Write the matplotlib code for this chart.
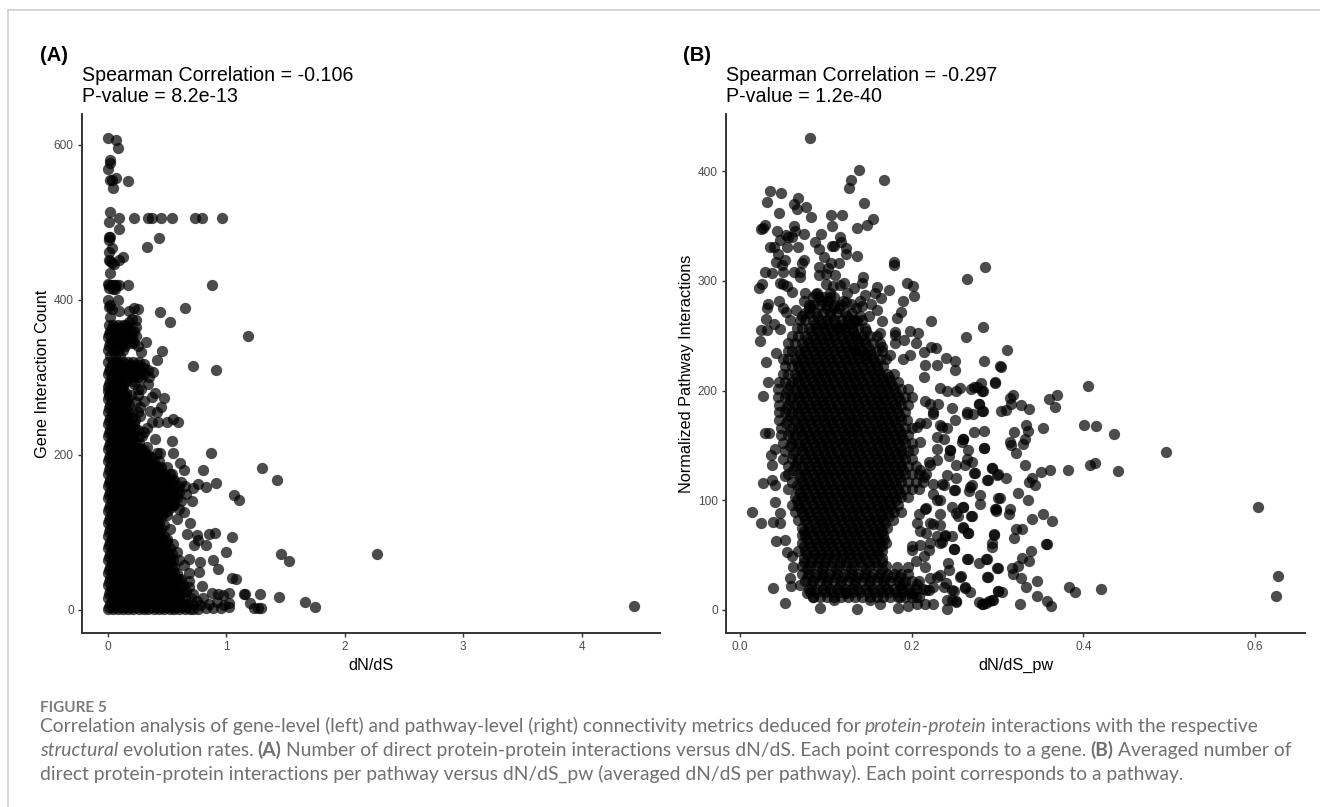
import numpy as np
import matplotlib
matplotlib.use('Agg')
import matplotlib.pyplot as plt
from matplotlib.lines import Line2D

plt.rcParams['font.family'] = ['Liberation Sans', 'DejaVu Sans']

# Panel A: isolated genes (dN/dS, interaction count)
gene_sparse = [
    (0, 609), (.065, 607), (.08, 596), (.017, 581), (.017, 577), (0, 569), (.065, 558), (.02, 555), (.03, 555),
    (.17, 554), (.045, 544), (.017, 514), (.096, 506), (.217, 506), (.335, 506), (.37, 506), (.45, 506),
    (.544, 506), (.738, 506), (.797, 506), (.966, 506), (.011, 500), (.096, 492), (.017, 481), (.006, 481),
    (.012, 478), (.431, 480), (.327, 468), (.03, 467), (.008, 462), (.13, 455), (.096, 452), (.011, 452),
    (.02, 450), (.03, 448), (.05, 446), (.017, 435), (0, 421), (.01, 419), (.03, 419), (.05, 419), (.07, 419),
    (.09, 419), (.17, 419), (.88, 419), (.011, 415), (.04, 414), (.06, 414), (.08, 400), (0, 400), (.017, 393),
    (.006, 391), (.03, 389), (.22, 390), (.256, 389), (.18, 386), (.65, 390), (.44, 385), (.096, 386),
    (.237, 374), (.527, 372), (.18, 371), (.017, 378), (1.18, 353), (.24, 353), (.324, 346), (.454, 334),
    (.28, 333), (.41, 322), (.715, 315), (.91, 310), (.383, 307), (.28, 299), (.13, 290), (0, 283),
    (.19, 277), (.256, 277), (.4, 280), (.375, 275), (.47, 274), (.45, 262), (.27, 262), (.256, 256),
    (.355, 257), (.41, 255), (.55, 247), (.594, 243), (.5, 243), (.425, 242), (.37, 243), (.3, 230),
    (.4, 220), (.544, 218), (.87, 203), (.3, 206), (.41, 202), (.44, 203), (.546, 202), (.61, 190),
    (.64, 181), (.8, 181), (1.3, 183), (1.43, 168), (.76, 163), (.91, 164), (.72, 158), (.83, 159),
    (1.065, 148), (1.11, 142), (.71, 140), (.64, 126), (.58, 118), (.69, 112), (.9, 99), (.85, 98),
    (.75, 97), (.665, 98), (1.05, 94), (.76, 90), (.73, 84), (.83, 84), (1.0, 75), (1.46, 72), (1.53, 63),
    (.685, 66), (.89, 64), (.78, 62), (.64, 58), (.93, 53), (.77, 49), (1.05, 41), (1.08, 40), (.685, 37),
    (.79, 31), (.68, 30), (1.02, 22), (1.28, 21), (1.15, 21), (1.16, 21), (.875, 22), (.93, 21), (.97, 19),
    (1.44, 17), (1.66, 10), (1.75, 4), (1.2, 9), (1.23, 3), (1.27, 2), (1.29, 3), (1.02, 9), (1.02, 4),
    (.83, 3), (.89, 2), (.95, 3), (.85, 8), (.92, 10), (.98, 6), (2.27, 72), (4.44, 5),
]

# Panel A: genes along the edge of the black mass
gene_edge = [
    (.48, 130), (.5, 122), (.47, 110), (.52, 105), (.5, 92), (.55, 85), (.58, 75), (.6, 65), (.55, 135),
    (.6, 130), (.62, 140), (.66, 150), (.62, 165), (.65, 160), (.28, 205), (.33, 210), (.36, 198), (.25, 232),
    (.29, 225), (.33, 235), (.23, 245), (.27, 250), (.24, 268), (.3, 270), (.25, 285), (.22, 292), (.34, 292),
    (.35, 300), (.3, 318), (.34, 310), (.22, 345), (.25, 340), (.22, 360), (.24, 365), (.2, 375), (.28, 285),
    (.62, 40), (.68, 48), (.72, 20), (.75, 12), (.78, 6), (.8, 15),
]

# Panel A: the solid black mass, one row of dN/dS values per interaction count
gene_rows = [
    (1, [0, .04, .08, .13, .17, .21, .26, .3, .34, .39, .43, .47, .52, .56, .6, .65, .69, .72, .76]),
    (8, [.02, .06, .11, .15, .19, .24, .28, .32, .37, .41, .45, .5, .54, .58, .63, .67, .72]),
    (16, [0, .04, .08, .13, .17, .21, .26, .3, .34, .39, .43, .47, .52, .56, .6, .65, .7]),
    (24, [.02, .06, .11, .15, .19, .24, .28, .32, .37, .41, .45, .5, .54, .58, .63, .66]),
    (32, [0, .04, .08, .13, .17, .21, .26, .3, .34, .39, .43, .47, .52, .56, .6, .63]),
    (40, [.02, .06, .11, .15, .19, .24, .28, .32, .37, .41, .45, .5, .54, .58, .6]),
    (48, [0, .04, .08, .13, .17, .21, .26, .3, .34, .39, .43, .47, .52, .56, .58]),
    (56, [.02, .06, .11, .15, .19, .24, .28, .32, .37, .41, .45, .5, .54, .56]),
    (64, [0, .04, .08, .13, .17, .21, .26, .3, .34, .39, .43, .47, .52, .55]),
    (72, [.02, .06, .11, .15, .19, .24, .28, .32, .37, .41, .45, .5, .54]),
    (80, [0, .04, .08, .13, .17, .21, .26, .3, .34, .39, .43, .47, .52]),
    (88, [.02, .06, .11, .15, .19, .24, .28, .32, .37, .41, .45, .5]),
    (96, [0, .04, .08, .13, .17, .21, .26, .3, .34, .39, .43, .47]),
    (104, [.02, .06, .11, .15, .19, .24, .28, .32, .37, .41, .45]),
    (112, [0, .04, .08, .13, .17, .21, .26, .3, .34, .39, .43]),
    (120, [.02, .06, .11, .15, .19, .24, .28, .32, .37, .41, .45]),
    (128, [0, .04, .08, .13, .17, .21, .26, .3, .34, .39, .43, .47, .5]),
    (136, [.02, .06, .11, .15, .19, .24, .28, .32, .37, .41, .45, .5, .54, .56]),
    (144, [0, .04, .08, .13, .17, .21, .26, .3, .34, .39, .43, .47, .52, .56, .58]),
    (152, [.02, .06, .11, .15, .19, .24, .28, .32, .37, .41, .45, .5, .54, .58, .6]),
    (160, [0, .04, .08, .13, .17, .21, .26, .3, .34, .39, .43, .47, .52, .56, .6]),
    (168, [.02, .06, .11, .15, .19, .24, .28, .32, .37, .41, .45, .5, .54, .56]),
    (176, [0, .04, .08, .13, .17, .21, .26, .3, .34, .39, .43, .47, .52, .54]),
    (184, [.02, .06, .11, .15, .19, .24, .28, .32, .37, .41, .45, .5]),
    (192, [0, .04, .08, .13, .17, .21, .26, .3, .34, .39, .43]),
    (200, [.02, .06, .11, .15, .19, .24, .28, .32, .34]),
    (208, [0, .04, .08, .13, .17, .21, .26, .28]),
    (216, [.02, .06, .11, .15, .19, .24, .26]),
    (224, [0, .04, .08, .13, .17, .21, .26]),
    (232, [.02, .06, .11, .15, .19, .24]),
    (240, [0, .04, .08, .13, .17, .22]),
    (248, [.02, .06, .11, .15, .2]),
    (256, [0, .04, .08, .13, .17, .2]),
    (264, [.02, .06, .11, .15, .18]),
    (272, [0, .04, .08, .13, .17]),
    (280, [.02, .06, .11, .15]),
    (288, [0, .04, .08, .13]),
    (296, [.02, .06, .11, .15, .2]),
    (304, [0, .04, .08, .13, .17, .21, .26, .3]),
    (312, [.02, .06, .11, .15, .19, .24, .28, .3]),
    (320, [0, .04, .08, .13, .17, .21, .26]),
    (328, [.02, .06, .1]),
    (336, [0, .04, .08, .13]),
    (344, [.02, .06, .11, .15, .2]),
    (352, [0, .04, .08, .13, .17, .2]),
    (360, [.02, .06, .11, .15, .19]),
    (368, [.01, .04, .08, .13, .15]),
]

# more genes inside the mass, offset from the rows above
gene_fill = [
    (4, [.01, .05, .1, .14, .18, .22, .27, .31, .36, .4, .44, .48, .53, .57, .62, .66]),
    (12, [.03, .07, .12, .16, .2, .25, .29, .33, .38, .42, .46, .51, .55, .6]),
    (20, [.01, .05, .1, .14, .18, .22, .27, .31, .36, .4, .44, .48, .53, .57, .62]),
    (28, [.03, .07, .12, .16, .2, .25, .29, .33, .38, .42, .46, .51, .55, .6]),
    (36, [.01, .05, .1, .14, .18, .22, .27, .31, .36, .4, .44, .48, .53, .57]),
    (44, [.03, .07, .12, .16, .2, .25, .29, .33, .38, .42, .46, .51, .55]),
    (52, [.01, .05, .1, .14, .18, .22, .27, .31, .36, .4, .44, .48, .53]),
    (60, [.03, .07, .12, .16, .2, .25, .29, .33, .38, .42, .46, .51]),
    (68, [.01, .05, .1, .14, .18, .22, .27, .31, .36, .4, .44, .48, .52]),
    (76, [.03, .07, .12, .16, .2, .25, .29, .33, .38, .42, .46, .5]),
    (84, [.01, .05, .1, .14, .18, .22, .27, .31, .36, .4, .44, .48]),
    (92, [.03, .07, .12, .16, .2, .25, .29, .33, .38, .42, .46]),
    (100, [.01, .05, .1, .14, .18, .22, .27, .31, .36, .4, .44]),
    (108, [.03, .07, .12, .16, .2, .25, .29, .33, .38, .42]),
    (116, [.01, .05, .1, .14, .18, .22, .27, .31, .36, .4]),
    (124, [.03, .07, .12, .16, .2, .25, .29, .33, .38, .42, .46]),
    (132, [.01, .05, .1, .14, .18, .22, .27, .31, .36, .4, .44, .48, .52]),
    (140, [.03, .07, .12, .16, .2, .25, .29, .33, .38, .42, .46, .51, .55]),
    (148, [.01, .05, .1, .14, .18, .22, .27, .31, .36, .4, .44, .48, .53, .57]),
    (156, [.03, .07, .12, .16, .2, .25, .29, .33, .38, .42, .46, .51, .55]),
    (164, [.01, .05, .1, .14, .18, .22, .27, .31, .36, .4, .44, .48, .53]),
    (172, [.03, .07, .12, .16, .2, .25, .29, .33, .38, .42, .46, .5]),
    (180, [.01, .05, .1, .14, .18, .22, .27, .31, .36, .4, .44]),
    (188, [.03, .07, .12, .16, .2, .25, .29, .33, .38]),
    (196, [.01, .05, .1, .14, .18, .22, .27, .31]),
    (204, [.03, .07, .12, .16, .2, .25]),
    (212, [.01, .05, .1, .14, .18, .22]),
    (220, [.03, .07, .12, .16, .2]),
    (228, [.01, .05, .1, .14, .18, .22]),
    (236, [.03, .07, .12, .16, .2]),
    (244, [.01, .05, .1, .14, .18]),
    (252, [.03, .07, .12, .16]),
    (260, [.01, .05, .1, .14]),
    (268, [.03, .07, .12, .15]),
    (276, [.01, .05, .1, .14]),
    (284, [.03, .07, .12]),
    (292, [.01, .05, .1]),
    (300, [.03, .07, .12, .16, .2, .25]),
    (308, [.01, .05, .1, .14, .18, .22, .27]),
    (316, [.03, .07, .12, .16, .2, .25]),
    (340, [.01, .05, .1, .14]),
    (348, [.03, .07, .12, .16, .2]),
    (356, [.01, .05, .1, .14, .18]),
    (364, [.03, .07, .12, .16]),
]

# Panel B: isolated pathways (dN/dS_pw, normalized interactions)
pathway_sparse = [
    (.082, 430), (.139, 401), (.168, 392), (.129, 392), (.127, 385), (.035, 382), (.048, 380), (.032, 372),
    (.068, 375), (.063, 370), (.066, 365), (.077, 367), (.144, 371), (.046, 362), (.083, 358), (.106, 360),
    (.119, 360), (.107, 350), (.155, 356), (.148, 351), (.136, 348), (.029, 351), (.025, 347), (.027, 348),
    (.043, 345), (.063, 350), (.075, 343), (.056, 340), (.054, 342), (.06, 340), (.064, 345), (.094, 343),
    (.116, 340), (.087, 335), (.118, 335), (.035, 331), (.04, 331), (.047, 337), (.055, 331), (.068, 331),
    (.092, 329), (.107, 332), (.11, 332), (.123, 330), (.123, 324), (.136, 323), (.044, 324), (.098, 322),
    (.052, 319), (.042, 317), (.074, 319), (.049, 314), (.072, 316), (.115, 316), (.106, 316), (.179, 317),
    (.179, 314), (.285, 313), (.092, 313), (.103, 312), (.029, 308), (.037, 307), (.05, 308), (.063, 308),
    (.07, 308), (.264, 302), (.07, 303), (.092, 305), (.1, 306), (.111, 305), (.143, 303), (.047, 298),
    (.026, 297), (.022, 293), (.05, 297), (.055, 295), (.121, 298), (.116, 296), (.1, 297), (.108, 295),
    (.142, 298), (.195, 298), (.201, 295), (.133, 293), (.16, 294), (.174, 292), (.06, 290), (.076, 289),
    (.089, 288), (.157, 289), (.146, 287), (.203, 286), (.164, 284), (.045, 282), (.19, 282), (.124, 281),
    (.129, 279), (.033, 279), (.032, 275), (.103, 282), (.05, 275), (.054, 272), (.065, 273), (.082, 276),
    (.109, 275), (.142, 277), (.153, 279), (.159, 273), (.188, 272), (.183, 266), (.03, 265), (.132, 264),
    (.136, 263), (.165, 263), (.223, 263), (.04, 261), (.058, 264), (.025, 255), (.283, 258), (.031, 255),
    (.047, 256), (.117, 257), (.181, 253), (.181, 251), (.198, 254), (.207, 252), (.023, 245), (.263, 249),
    (.191, 246), (.134, 250), (.147, 254), (.163, 252), (.205, 243), (.181, 243), (.165, 240), (.223, 240),
    (.228, 239), (.214, 235), (.134, 237), (.147, 232), (.042, 234), (.24, 230), (.175, 232), (.198, 232),
    (.19, 229), (.03, 226), (.25, 227), (.284, 227), (.303, 222), (.23, 223), (.216, 223), (.25, 219),
    (.214, 212), (.297, 208), (.311, 237), (.304, 221), (.281, 207), (.276, 203), (.405, 204), (.256, 202),
    (.269, 201), (.282, 200), (.369, 196), (.36, 192), (.318, 196), (.314, 193), (.316, 188), (.327, 187),
    (.367, 185), (.337, 183), (.278, 188), (.31, 182), (.304, 181), (.282, 181), (.264, 179), (.271, 179),
    (.401, 169), (.415, 168), (.436, 160), (.333, 169), (.335, 163), (.353, 166), (.319, 162), (.284, 163),
    (.272, 162), (.332, 156), (.315, 153), (.316, 150), (.33, 151), (.322, 143), (.284, 148), (.26, 156),
    (.258, 153), (.496, 144), (.266, 146), (.332, 132), (.408, 132), (.413, 134), (.44, 127), (.382, 128),
    (.361, 128), (.35, 126), (.294, 129), (.3, 124), (.31, 120), (.289, 118), (.34, 120), (.337, 117),
    (.344, 114), (.27, 135), (.272, 125), (.262, 132), (.268, 112), (.25, 109), (.324, 107), (.28, 105),
    (.303, 102), (.335, 100), (.279, 97), (.603, 94), (.26, 94), (.298, 92), (.298, 90), (.314, 92),
    (.313, 87), (.269, 86), (.254, 86), (.353, 87), (.363, 81), (.34, 83), (.26, 75), (.321, 74), (.328, 74),
    (.319, 66), (.266, 70), (.296, 68), (.247, 67), (.294, 61), (.293, 57), (.356, 60), (.357, 60),
    (.249, 56), (.339, 54), (.328, 47), (.337, 45), (.265, 46), (.278, 43), (.287, 46), (.3, 38), (.324, 40),
    (.317, 38), (.318, 33), (.627, 31), (.289, 30), (.327, 29), (.346, 26), (.257, 31), (.383, 21), (.39, 16),
    (.42, 19), (.333, 21), (.262, 21), (.268, 16), (.301, 17), (.305, 16), (.346, 13), (.624, 13), (.294, 9),
    (.358, 8), (.362, 4), (.326, 5), (.278, 7), (.282, 5), (.286, 6), (.29, 8), (.252, 7), (.247, 9), (.249, 17),
    (.014, 89), (.024, 79), (.038, 20), (.052, 6), (.093, 2), (.136, 1), (.184, 2), (.241, 1), (.283, 5),
    (.027, 195), (.033, 208), (.297, 207), (.283, 200), (.272, 203), (.252, 200), (.233, 202), (.247, 184),
    (.264, 180), (.283, 181), (.278, 188), (.25, 173), (.235, 167), (.26, 156), (.229, 147), (.284, 148),
    (.245, 146), (.243, 140), (.264, 138), (.252, 132), (.294, 129), (.299, 123), (.288, 118), (.274, 125),
    (.241, 123), (.252, 120), (.27, 114), (.267, 108), (.249, 109), (.26, 94), (.301, 102), (.297, 92),
    (.247, 94), (.252, 88), (.27, 86), (.26, 76), (.266, 70), (.296, 69), (.249, 56), (.239, 68), (.264, 46),
    (.288, 46), (.299, 38), (.242, 43), (.288, 30), (.256, 30), (.262, 20), (.252, 8), (.301, 17), (.295, 9),
    (.241, 9), (.225, 5), (.216, 5), (.196, 4), (.206, 5), (.163, 5), (.151, 9), (.029, 161), (.034, 161),
    (.041, 147), (.036, 141), (.037, 132), (.052, 122), (.027, 116), (.037, 118), (.041, 114), (.041, 98),
    (.047, 88), (.038, 80), (.047, 79), (.042, 63), (.052, 64), (.055, 53), (.06, 49), (.062, 39), (.058, 29),
    (.059, 22), (.07, 23), (.078, 15), (.085, 12), (.109, 9), (.124, 15), (.215, 190), (.225, 180), (.21, 170),
    (.23, 158), (.22, 135), (.235, 115), (.23, 100), (.215, 92), (.225, 78), (.21, 72), (.235, 62), (.2, 58),
    (.22, 55), (.205, 45), (.23, 30), (.24, 25), (.22, 18), (.205, 12),
]

# Panel B: pathways in the looser band right of the core
pathway_band = [
    (.221, 188), (.231, 188), (.241, 200), (.225, 179), (.217, 170), (.206, 167), (.21, 153), (.202, 146),
    (.233, 169), (.241, 166), (.237, 156), (.245, 146), (.229, 137), (.221, 132), (.21, 128), (.214, 121),
    (.225, 115), (.237, 114), (.225, 106), (.233, 100), (.217, 93), (.208, 87), (.233, 87), (.221, 79),
    (.206, 79), (.217, 70), (.233, 77), (.229, 67), (.239, 67), (.221, 61), (.21, 59), (.2, 55), (.233, 61),
    (.214, 49), (.216, 39), (.196, 39), (.243, 36), (.233, 32), (.221, 29), (.206, 24), (.19, 24), (.183, 39),
    (.225, 21), (.237, 21), (.247, 18), (.217, 18), (.202, 15), (.186, 12),
]

# Panel B: the dense core, one row of dN/dS_pw values per interaction level
pathway_rows = [
    (12, [.085, .093, .101, .109, .118, .126, .134, .142, .151, .159, .167, .175, .184, .192, .2, .209]),
    (19, [.08, .089, .097, .105, .113, .122, .13, .138, .146, .155, .163, .171, .179, .188, .196, .205, .213]),
    (26, [.076, .085, .093, .101, .109, .118, .126, .134, .142, .151, .159, .167, .175, .184, .192, .2, .209]),
    (33, [.072, .08, .089, .097, .105, .113, .122, .13, .138, .146, .155, .163, .171, .179, .188, .196]),
    (40, [.072, .081, .09, .098, .106, .115, .124, .133, .142, .151, .16, .17]),
    (47, [.075, .084, .092, .101, .11, .119, .128, .137, .146, .155, .165]),
    (54, [.068, .076, .085, .093, .101, .109, .118, .126, .134, .142, .151, .159, .165]),
    (61, [.072, .08, .089, .097, .105, .113, .122, .13, .138, .146, .155, .163, .17]),
    (68, [.072, .076, .085, .093, .101, .109, .118, .126, .134, .142, .151, .159, .167]),
    (75, [.072, .08, .089, .097, .105, .113, .122, .13, .138, .146, .155, .163, .171]),
    (82, [.068, .076, .085, .093, .101, .109, .118, .126, .134, .142, .151, .159, .167, .178]),
    (89, [.064, .072, .08, .089, .097, .105, .113, .122, .13, .138, .146, .155, .163, .171, .179, .188]),
    (96, [.06, .068, .076, .085, .093, .101, .109, .118, .126, .134, .142, .151, .159, .167, .175, .184]),
    (103, [.064, .072, .08, .089, .097, .105, .113, .122, .13, .138, .146, .155, .163, .171, .179, .188, .196]),
    (110, [.056, .068, .076, .085, .093, .101, .109, .118, .126, .134, .142, .151, .159, .167, .175, .184, .192, .2, .209]),
    (117, [.06, .072, .08, .089, .097, .105, .113, .122, .13, .138, .146, .155, .163, .171, .179, .188, .196, .205, .213]),
    (124, [.056, .068, .076, .085, .093, .101, .109, .118, .126, .134, .142, .151, .159, .167, .175, .184, .192, .2, .209, .217]),
    (131, [.056, .064, .072, .08, .089, .097, .105, .113, .122, .13, .138, .146, .155, .163, .171, .179, .188, .196, .205]),
    (138, [.05, .06, .068, .076, .085, .093, .101, .109, .118, .126, .134, .142, .151, .159, .167, .175, .184, .192, .2]),
    (145, [.052, .064, .072, .08, .089, .097, .105, .113, .122, .13, .138, .146, .155, .163, .171, .179, .188, .196]),
    (152, [.05, .06, .068, .076, .085, .093, .101, .109, .118, .126, .134, .142, .151, .159, .167, .175, .184, .192, .2]),
    (159, [.048, .056, .064, .072, .08, .089, .097, .105, .113, .122, .13, .138, .146, .155, .163, .171, .179, .188, .196]),
    (166, [.048, .06, .068, .076, .085, .093, .101, .109, .118, .126, .134, .142, .151, .159, .167, .175, .184, .192, .2]),
    (173, [.046, .056, .064, .072, .08, .089, .097, .105, .113, .122, .13, .138, .146, .155, .163, .171, .179, .188, .195]),
    (180, [.046, .052, .06, .068, .076, .085, .093, .101, .109, .118, .126, .134, .142, .151, .159, .167, .175, .184, .192]),
    (187, [.046, .056, .064, .072, .08, .089, .097, .105, .113, .122, .13, .138, .146, .155, .163, .171, .179, .188, .196]),
    (194, [.044, .052, .06, .068, .076, .085, .093, .101, .109, .118, .126, .134, .142, .151, .159, .167, .175, .184, .192, .2]),
    (201, [.044, .056, .064, .072, .08, .089, .097, .105, .113, .122, .13, .138, .146, .155, .163, .171, .179, .188, .196]),
    (208, [.046, .052, .06, .068, .076, .085, .093, .101, .109, .118, .126, .134, .142, .151, .159, .167, .175, .184]),
    (215, [.05, .056, .064, .072, .08, .089, .097, .105, .113, .122, .13, .138, .146, .155, .163, .171, .179]),
    (222, [.052, .06, .068, .076, .085, .093, .101, .109, .118, .126, .134, .142, .151, .159, .167]),
    (229, [.05, .056, .064, .072, .08, .089, .097, .105, .113, .122, .13, .138, .146, .155, .163, .17]),
    (236, [.056, .06, .068, .076, .085, .093, .101, .109, .118, .126, .134, .142, .151, .159, .165]),
    (243, [.056, .064, .072, .08, .089, .097, .105, .113, .122, .13, .138, .146, .155, .163]),
    (250, [.06, .068, .076, .085, .093, .101, .109, .118, .126, .134, .142, .151, .159]),
    (257, [.066, .072, .08, .089, .097, .105, .113, .122, .13, .138, .146]),
    (264, [.07, .076, .085, .093, .101, .109, .118, .126, .134, .142]),
    (271, [.076, .08, .089, .097, .105, .113, .122, .13]),
    (278, [.08, .085, .093, .101, .109, .118]),
    (285, [.085, .092, .098, .105, .11]),
]

# more pathways inside the core, offset from the rows above
pathway_fill = [
    (16, [.082, .09, .099, .107, .116, .124, .132, .14, .149, .157, .165, .173, .182, .19, .198]),
    (23, [.083, .1, .116, .133, .15, .168, .186]),
    (30, [.078, .087, .095, .103, .111, .12, .128, .136, .144, .153, .161, .169, .177, .186]),
    (37, [.078, .095, .112, .129, .147, .165]),
    (44, [.074, .083, .091, .099, .107, .116, .124, .132, .14, .149, .157, .165]),
    (51, [.078, .087, .095, .103, .111, .12, .128, .136, .144, .153, .161]),
    (58, [.074, .083, .091, .099, .107, .116, .124, .132, .14, .149, .157, .165]),
    (65, [.078, .087, .095, .103, .111, .12, .128, .136, .144, .153, .161, .168]),
    (72, [.074, .083, .091, .099, .107, .116, .124, .132, .14, .149, .157, .165]),
    (79, [.078, .087, .095, .103, .111, .12, .128, .136, .144, .153, .161, .169]),
    (86, [.074, .083, .091, .099, .107, .116, .124, .132, .14, .149, .157, .165, .173]),
    (93, [.07, .078, .087, .095, .103, .111, .12, .128, .136, .144, .153, .161, .169, .177]),
    (100, [.066, .074, .083, .091, .099, .107, .116, .124, .132, .14, .149, .157, .165, .173, .182]),
    (107, [.07, .078, .087, .095, .103, .111, .12, .128, .136, .144, .153, .161, .169, .177, .186]),
    (114, [.066, .074, .083, .091, .099, .107, .116, .124, .132, .14, .149, .157, .165, .173, .182]),
    (121, [.07, .078, .087, .095, .103, .111, .12, .128, .136, .144, .153, .161, .169, .177, .186]),
    (128, [.062, .074, .083, .091, .099, .107, .116, .124, .132, .14, .149, .157, .165, .173, .182, .19]),
    (135, [.066, .078, .087, .095, .103, .111, .12, .128, .136, .144, .153, .161, .169, .177, .186]),
    (142, [.062, .074, .083, .091, .099, .107, .116, .124, .132, .14, .149, .157, .165, .173, .182, .19]),
    (149, [.058, .07, .078, .087, .095, .103, .111, .12, .128, .136, .144, .153, .161, .169, .177, .186]),
    (156, [.062, .074, .083, .091, .099, .107, .116, .124, .132, .14, .149, .157, .165, .173, .182, .19]),
    (163, [.058, .07, .078, .087, .095, .103, .111, .12, .128, .136, .144, .153, .161, .169, .177, .186]),
    (170, [.054, .066, .074, .083, .091, .099, .107, .116, .124, .132, .14, .149, .157, .165, .173, .182]),
    (177, [.058, .07, .078, .087, .095, .103, .111, .12, .128, .136, .144, .153, .161, .169, .177, .186]),
    (184, [.054, .066, .074, .083, .091, .099, .107, .116, .124, .132, .14, .149, .157, .165, .173, .182]),
    (191, [.058, .07, .078, .087, .095, .103, .111, .12, .128, .136, .144, .153, .161, .169, .177, .186]),
    (198, [.054, .066, .074, .083, .091, .099, .107, .116, .124, .132, .14, .149, .157, .165, .173, .182]),
    (205, [.058, .07, .078, .087, .095, .103, .111, .12, .128, .136, .144, .153, .161, .169, .177]),
    (212, [.066, .074, .083, .091, .099, .107, .116, .124, .132, .14, .149, .157, .165, .173]),
    (219, [.07, .078, .087, .095, .103, .111, .12, .128, .136, .144, .153, .161]),
    (226, [.066, .074, .083, .091, .099, .107, .116, .124, .132, .14, .149, .157]),
    (233, [.07, .078, .087, .095, .103, .111, .12, .128, .136, .144, .153]),
    (240, [.074, .083, .091, .099, .107, .116, .124, .132, .14, .149]),
    (247, [.078, .087, .095, .103, .111, .12, .128, .136, .144]),
    (254, [.083, .091, .099, .107, .116, .124, .132]),
    (261, [.087, .095, .103, .111, .12, .128]),
    (268, [.072, .09, .105, .125, .14, .15]),
    (275, [.08, .1, .115, .135]),
    (282, [.075, .095, .12, .14]),
    (289, [.09, .105, .125]),
]

gene_ticks_x = [0, 1, 2, 3, 4]
gene_ticks_y = [0, 200, 400, 600]
pathway_ticks_x = [0.0, 0.2, 0.4, 0.6]
pathway_ticks_y = [0, 100, 200, 300, 400]


def expand(sparse, rows):
    xs = [p[0] for p in sparse]
    ys = [p[1] for p in sparse]
    for y, row in rows:
        xs.extend(row)
        ys.extend([y] * len(row))
    return np.array(xs), np.array(ys)


W, H = 1320, 807
fig = plt.figure(figsize=(W / 100, H / 100), dpi=100, facecolor='white')


def make_panel(left, right, xlim, ylim, xt, yt, xticklabels, xlabel, ylabel, x, y):
    ax = fig.add_axes([left / W, 1 - 633 / H, (right - left) / W, (633 - 114) / H])
    ax.scatter(x, y, s=66, c='black', alpha=0.7, linewidths=0, clip_on=False)
    ax.set_xlim(*xlim)
    ax.set_ylim(*ylim)
    ax.set_xticks(xt)
    ax.set_xticklabels(xticklabels)
    ax.set_yticks(yt)
    ax.set_xlabel(xlabel, fontsize=11.7, labelpad=3)
    ax.set_ylabel(ylabel, fontsize=11.7, labelpad=3)
    ax.tick_params(length=3, width=1, color='#333333', labelcolor='#4d4d4d', labelsize=8.6, pad=3)
    for side in ['top', 'right']:
        ax.spines[side].set_visible(False)
    for side in ['left', 'bottom']:
        ax.spines[side].set_linewidth(1.4)
        ax.spines[side].set_color('#333333')
    return ax


gx, gy = expand(gene_sparse + gene_edge, gene_rows + gene_fill)
px, py = expand(pathway_sparse + pathway_band, pathway_rows + pathway_fill)

make_panel(82, 660, (-0.22, 4.662), (-29.7, 640), gene_ticks_x, gene_ticks_y,
           ['0', '1', '2', '3', '4'], 'dN/dS', 'Gene Interaction Count', gx, gy)
make_panel(726, 1305, (-0.0163, 0.658), (-21, 452), pathway_ticks_x, pathway_ticks_y,
           ['0.0', '0.2', '0.4', '0.6'], 'dN/dS_pw', 'Normalized Pathway Interactions', px, py)


def ftext(xp, yp, s, **kw):
    return fig.text(xp / W, 1 - yp / H, s, **kw)


# panel titles
ftext(40, 61, '(A)', fontsize=14.5, fontweight='bold', va='baseline')
ftext(683, 61, '(B)', fontsize=14.5, fontweight='bold', va='baseline')
ftext(82, 81, 'Spearman Correlation = -0.106', fontsize=14.1, va='baseline')
ftext(82, 102, 'P-value = 8.2e-13', fontsize=14.1, va='baseline')
ftext(726, 81, 'Spearman Correlation = -0.297', fontsize=14.1, va='baseline')
ftext(726, 102, 'P-value = 1.2e-40', fontsize=14.1, va='baseline')

# caption
cap_color = '#707070'
ftext(40, 712, 'FIGURE 5', fontsize=11, family='Lato', weight='bold', color='#7a7a7a', va='baseline')

caption_lines = [
    (732, [('Correlation analysis of gene-level (left) and pathway-level (right) connectivity metrics deduced for ', 'normal', 'normal'),
           ('protein-protein', 'italic', 'normal'),
           (' interactions with the respective', 'normal', 'normal')]),
    (756, [('structural', 'italic', 'normal'),
           (' evolution rates. ', 'normal', 'normal'),
           ('(A)', 'normal', 'bold'),
           (' Number of direct protein-protein interactions versus dN/dS. Each point corresponds to a gene. ', 'normal', 'normal'),
           ('(B)', 'normal', 'bold'),
           (' Averaged number of', 'normal', 'normal')]),
    (780, [('direct protein-protein interactions per pathway versus dN/dS_pw (averaged dN/dS per pathway). Each point corresponds to a pathway.', 'normal', 'normal')]),
]
renderer = fig.canvas.get_renderer()
for yp, runs in caption_lines:
    xp = 40
    for s, style, weight in runs:
        # blanks at the ends of a run are not measured, add them by hand
        lead = len(s) - len(s.lstrip(' '))
        trail = len(s) - len(s.rstrip(' '))
        t = ftext(xp + lead * 4.4, yp, s.strip(), fontsize=13.9, family='Lato', style=style, weight=weight,
                  color=cap_color, va='baseline')
        xp = t.get_window_extent(renderer).x1 + trail * 4.4

# page frame
fig.add_artist(Line2D([7.5 / W, 1], [1 - 9.5 / H, 1 - 9.5 / H], color='#cccccc', lw=1.1))
fig.add_artist(Line2D([7.5 / W, 7.5 / W], [1 - 9.5 / H, 0], color='#cccccc', lw=1.1))

fig.savefig('out.png', dpi=100)
